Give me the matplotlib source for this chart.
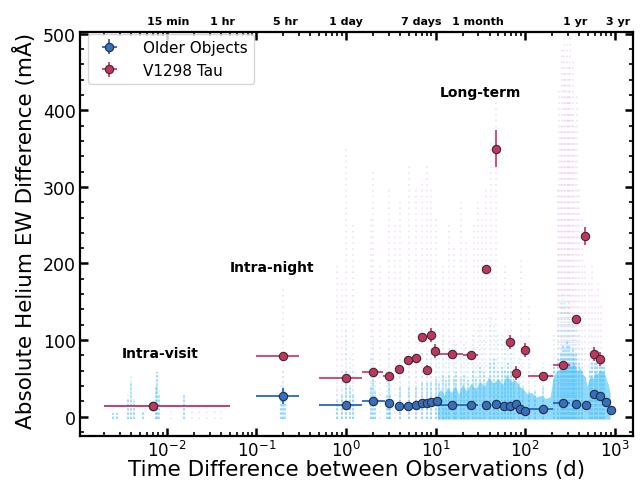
import numpy as np
import matplotlib
matplotlib.use("Agg")
import matplotlib.pyplot as plt
from matplotlib.ticker import MultipleLocator, FixedLocator, NullFormatter, LogFormatterSciNotation

# ---------------- binned data ----------------
old_x = [0.007, 0.2, 1.0, 2.0, 3.0, 3.9, 4.9, 6.0, 7.0, 8.0, 8.9, 10.3, 15.3, 25, 36.5, 47, 58, 68, 79, 88, 100, 158, 265, 370, 480, 590, 690, 800, 910]
old_y = [14.5, 27, 16, 20, 18, 14.5, 14, 16, 18, 18, 19.5, 21, 16, 16, 16, 16.5, 14.5, 14.5, 17, 10, 7, 10, 18, 17, 16, 30, 27, 19, 9]
old_yerr = [2, 10, 3, 3, 3, 2, 2, 2, 2, 2, 2, 2, 2, 2, 2, 2, 2, 2, 2, 2, 2, 2, 2, 2, 2, 4, 4, 3, 2]
old_xlo = [0.002, 0.1, 0.5, 1.5, 2.7, 3.6, 4.6, 5.6, 6.6, 7.6, 8.6, 9.6, 10.5, 20, 35, 45, 56, 66, 76, 86, 97, 108, 206, 355, 465, 575, 675, 780, 890]
old_xhi = [0.05, 0.3, 1.5, 2.7, 3.3, 4.2, 5.2, 6.4, 7.4, 8.4, 9.3, 10.5, 20, 30, 38, 49, 60, 70, 82, 90, 103, 206, 318, 385, 495, 605, 705, 820, 930]

tau_x = [0.007, 0.2, 1.0, 2.0, 3.0, 3.9, 4.9, 6.0, 7.0, 8.0, 8.9, 9.9, 15.3, 25, 36.5, 47, 68, 79, 100, 158, 265, 370, 467, 590, 690]
tau_y = [13.5, 79, 51, 59, 53, 63, 74, 77, 104, 61, 107, 86, 82, 80, 193, 350, 98, 57, 87, 53, 67, 127, 236, 82, 75]
tau_yerr = [2, 4, 3, 3, 3, 3, 3, 3, 5, 6, 9, 9, 3, 3, 5, 24, 9, 9, 9, 3, 3, 4, 12, 9, 9]
tau_xlo = [0.002, 0.1, 0.5, 1.5, 2.6, 3.6, 4.6, 5.6, 6.6, 7.6, 8.6, 9.5, 10.5, 20, 34.5, 45, 65, 76, 97, 108, 206, 350, 450, 570, 670]
tau_xhi = [0.05, 0.3, 1.5, 2.6, 3.4, 4.2, 5.2, 6.4, 7.4, 8.4, 9.3, 10.5, 20, 30, 38.5, 49, 71, 82, 103, 206, 318, 390, 485, 610, 710]

# ---------------- background cloud of individual pairs ----------------
old_streak_x = [0.0025, 0.0028, 0.0037, 0.004, 0.0043, 0.0054, 0.0075, 0.0078, 0.0082, 0.0155,
                0.19, 0.2, 0.21, 0.8, 0.9, 1.0, 1.1, 1.2, 1.9, 2.0, 2.1, 2.9, 3.0, 3.1, 4.0, 5.0, 6.0, 7.0, 8.0, 9.0, 10.0,
                11, 12, 13, 14, 16, 17, 19, 21, 23, 26, 28, 31, 35, 40, 45, 50, 55, 60, 65, 70, 75, 85, 95, 110,
                130, 160, 210, 230, 250, 265, 280, 295, 310, 325, 340, 355, 370, 400, 430, 530, 560, 600, 640, 680, 720, 760]
old_streak_lo = [5, 5, 25, 45, 20, 6, 40, 58, 30, 30,
                 25, 40, 20, 20, 30, 60, 40, 30, 40, 50, 35, 30, 45, 30, 40, 40, 40, 45, 45, 45, 50,
                 45, 55, 48, 55, 50, 58, 50, 55, 48, 60, 52, 65, 58, 70, 75, 60, 65, 62, 70, 60, 55, 45, 40, 35,
                 35, 40, 65, 75, 85, 95, 90, 100, 95, 85, 90, 80, 85, 70, 60, 60, 70, 70, 72, 68, 70, 65]
old_streak_hi = [6, 6, 30, 55, 25, 8, 45, 62, 35, 32,
                 45, 60, 35, 40, 60, 115, 80, 60, 80, 100, 70, 60, 90, 60, 70, 75, 80, 85, 85, 90, 95,
                 80, 110, 85, 90, 100, 95, 80, 95, 85, 110, 90, 120, 100, 130, 120, 110, 110, 100, 115, 105, 100, 80, 75, 70,
                 60, 70, 110, 130, 150, 160, 150, 140, 150, 130, 130, 120, 120, 110, 90, 80, 85, 85, 90, 80, 80, 75]

tau_streak_x = [0.011, 0.019, 0.023, 0.028, 0.034, 0.04, 0.2, 0.8, 0.9, 1.0, 1.2, 1.9, 2.0, 2.4, 3.0, 3.5, 4.0, 5.0, 6.0,
                7.0, 8.0, 9.0, 10.0, 12, 14, 16, 19, 22, 27, 30, 33, 37, 42, 47, 60, 70, 90, 110,
                230, 240, 250, 260, 270, 280, 290, 300, 310, 320, 330, 345, 360, 380, 400, 430, 470, 520, 560, 600, 650, 700]
tau_streak_hi = [15, 20, 15, 18, 12, 10, 170, 200, 180, 350, 250, 260, 320, 200, 300, 250, 280, 330, 300,
                 310, 330, 300, 260, 200, 250, 220, 280, 230, 250, 280, 260, 300, 360, 420, 200, 180, 210, 150,
                 300, 430, 380, 480, 500, 450, 490, 420, 460, 500, 400, 470, 380, 420, 300, 260, 200, 180, 200, 160, 180, 150]

# dense envelope of the older objects (d, mA)
old_env_x = [10.5, 11.5, 12.5, 13.5, 15, 16.5, 18, 20, 22, 25, 28, 31, 35, 39, 44, 50, 56, 62, 70, 78, 86, 95, 105,
             118, 132, 150, 170, 190, 205, 220, 240, 260, 280, 300, 325, 350, 380, 410, 440, 470, 490,
             510, 540, 570, 600, 640, 680, 720, 760, 800, 850, 890]
old_env_y = [30, 36, 28, 38, 32, 40, 30, 42, 34, 44, 36, 46, 40, 52, 44, 50, 42, 55, 46, 48, 40, 36, 30,
             32, 26, 28, 24, 26, 50, 58, 62, 70, 64, 72, 66, 70, 60, 64, 56, 52, 40,
             46, 54, 50, 58, 56, 62, 58, 60, 50, 42, 30]

# top axis labels
top_pos = [15 / 1440, 1 / 24, 5 / 24, 1, 7, 30, 365, 1095]
top_lab = ["15 min", "1 hr", "5 hr", "1 day", "7 days", "1 month", "1 yr", "3 yr"]

XMIN, XMAX = 1.07e-3, 1.6e3
BLUE_BG = "#38bdf8"
PINK_BG = "#dd9ee6"

fig = plt.figure(figsize=(6.41, 4.85), dpi=100)
ax = fig.add_axes([0.1248, 0.099, 0.8627, 0.833])
ax.set_xscale("log")

# background
ax.vlines(tau_streak_x, -3, tau_streak_hi, colors=PINK_BG, alpha=0.32, lw=1.2,
          linestyles=(0, (1, 2.5)), zorder=1)
ax.fill_between(old_env_x, -3, old_env_y, color=BLUE_BG, alpha=0.55, lw=0, zorder=1.5)
ax.vlines(old_streak_x, -3, old_streak_hi, colors=BLUE_BG, alpha=0.28, lw=1.1,
          linestyles=(0, (1, 2)), zorder=1.5)
ax.vlines(old_streak_x, -3, old_streak_lo, colors=BLUE_BG, alpha=0.5, lw=1.2,
          linestyles=(0, (1.5, 1)), zorder=1.6)

ox = np.array(old_x); tx = np.array(tau_x)
ax.errorbar(old_x, old_y, yerr=old_yerr,
            xerr=[ox - np.array(old_xlo), np.array(old_xhi) - ox],
            fmt="o", color="#2567c2", mfc="#3470c0", mec="#2b2b3a", mew=0.8, ms=6,
            elinewidth=1.3, capsize=0, zorder=4, label="Older Objects")
ax.errorbar(tau_x, tau_y, yerr=tau_yerr,
            xerr=[tx - np.array(tau_xlo), np.array(tau_xhi) - tx],
            fmt="o", color="#d0406a", mfc="#c0365c", mec="#3a2b33", mew=0.8, ms=6,
            elinewidth=1.3, capsize=0, zorder=5, label="V1298 Tau")

ax.set_xlim(XMIN, XMAX)
ax.set_ylim(-25, 502)
ax.yaxis.set_major_locator(MultipleLocator(100))
ax.yaxis.set_minor_locator(MultipleLocator(20))
major_ticks = [10.0 ** e for e in range(-2, 4)]
minor_ticks = [m * 10.0 ** e for e in range(-3, 4) for m in range(2, 10)
               if XMIN <= m * 10.0 ** e <= XMAX]
ax.xaxis.set_major_locator(FixedLocator(major_ticks))
ax.xaxis.set_major_formatter(LogFormatterSciNotation())
ax.xaxis.set_minor_locator(FixedLocator(minor_ticks))
ax.xaxis.set_minor_formatter(NullFormatter())
ax.tick_params(which="both", direction="in", top=True, right=True, width=1.2)
ax.tick_params(which="major", length=6, width=1.8, labelsize=12.5, pad=3)
ax.tick_params(axis="x", which="major", labelsize=12, pad=3)
ax.tick_params(which="minor", length=3)
for s in ax.spines.values():
    s.set_linewidth(1.6)

ax.set_xlabel("Time Difference between Observations (d)", fontsize=15.5)
ax.set_ylabel("Absolute Helium EW Difference (mÅ)", fontsize=15.5)
ax.xaxis.set_label_coords(0.5, -0.058)
ax.yaxis.set_label_coords(-0.08, 0.51)

for p, l in zip(top_pos, top_lab):
    ax.text(p, 1.015, l, transform=ax.get_xaxis_transform(), ha="center", va="bottom",
            fontsize=8, fontweight="bold")

ax.text(0.0084, 83, "Intra-visit", ha="center", va="center", fontsize=10, fontweight="bold")
ax.text(0.149, 195, "Intra-night", ha="center", va="center", fontsize=10, fontweight="bold")
ax.text(31.5, 424, "Long-term", ha="center", va="center", fontsize=10, fontweight="bold")

leg = ax.legend(loc="upper left", bbox_to_anchor=(0.0145, 0.995), borderaxespad=0,
                fontsize=11, frameon=True, borderpad=0.4, handletextpad=1.2)
leg.get_frame().set_edgecolor("#cccccc")

fig.savefig("out.png", dpi=100)
